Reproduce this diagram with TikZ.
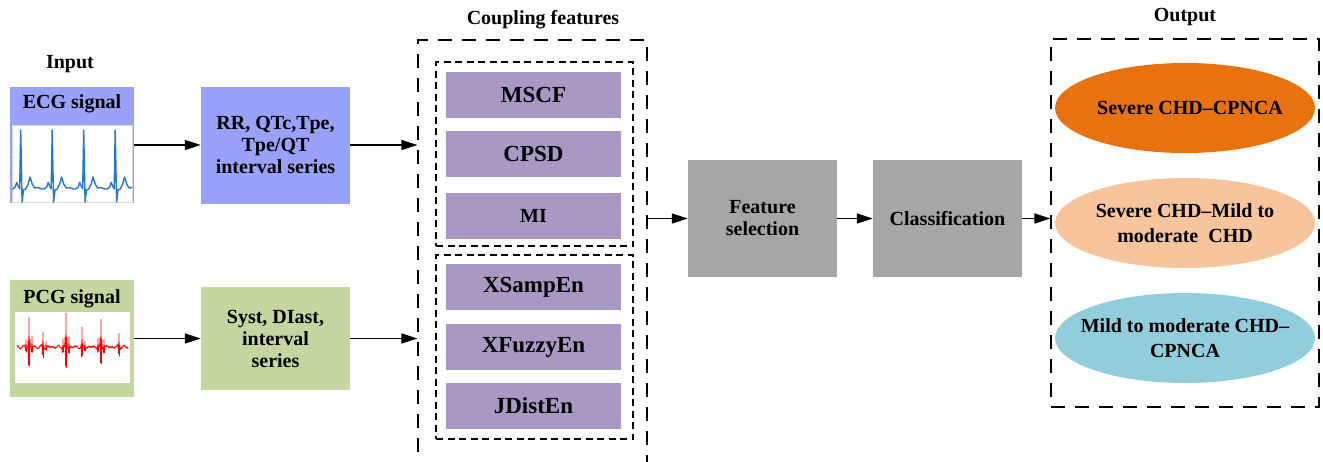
\documentclass[tikz,border=0pt]{standalone}
\usepackage{fontspec}
\setmainfont{Liberation Serif}
\newfontfamily\diagfont{Liberation Serif}
\usetikzlibrary{arrows.meta,shapes.geometric}

\definecolor{ecgblue}{RGB}{152,162,250}
\definecolor{pcggreen}{RGB}{196,215,160}
\definecolor{featpurple}{RGB}{168,152,196}
\definecolor{stepgray}{RGB}{166,166,166}
\definecolor{outorange}{RGB}{232,113,16}
\definecolor{outpeach}{RGB}{247,196,156}
\definecolor{outcyan}{RGB}{146,205,220}
\definecolor{traceblue}{RGB}{35,120,200}

\begin{document}
\begin{tikzpicture}[x=1pt,y=-1pt,
  txt/.style={font=\diagfont\fontsize{20}{22}\selectfont\bfseries, align=center},
  block/.style={txt, inner sep=0pt, minimum width=149pt, minimum height=117pt},
  feat/.style={txt, fill=featpurple, inner sep=0pt, minimum width=175pt,
    minimum height=46pt, font=\diagfont\fontsize{23}{25}\selectfont\bfseries},
  outerbox/.style={draw, line width=1.2pt, dash pattern=on 14pt off 10pt, inner sep=0pt},
  innerbox/.style={draw, line width=1.1pt, dash pattern=on 7pt off 4.5pt, inner sep=0pt},
  arr/.style={line width=1.4pt, -{Triangle[length=16pt,width=10pt]}},
  result/.style={ellipse, inner sep=0pt, minimum width=260pt, minimum height=90pt},
  restext/.style={txt, font=\diagfont\fontsize{20}{25}\selectfont\bfseries},
  declare function={
    burst(\argx,\argc,\arga,\argw)=\arga*max(0,1-abs(\argx-\argc)/\argw)*cos(330*max(-6,min(6,\argx-\argc)));
    hiss(\argx)=1.6*sin(140*(\argx-16))*sin(97*(\argx-16))+0.9*sin(61*(\argx-16));
  }
]
\clip (0,0) rectangle (1323,461);

% headings
\node[txt] (hin)  at (70,64)   {Input};
\node[txt] (hcf)  at (543,20)  {Coupling features};
\node[txt] (hout) at (1185,17) {Output};

% ECG input
\node[fill=ecgblue, inner sep=0pt, minimum width=124pt, minimum height=116pt] (ecg) at (72,145) {};
\node[txt] (ecgt) at (72,104) {ECG signal};
\fill[white] (12,125) rectangle (132,202);
\draw[gray!30, line width=0.4pt] (12,125) rectangle (132,202);
\foreach \ty in {140,157,174,191} \draw[gray!40, line width=0.4pt] (12.5,\ty) -- (14,\ty);
\foreach \tx in {52,87} \draw[gray!40, line width=0.4pt] (\tx,201.5) -- (\tx,200);
\begin{scope}
  \clip (12,125) rectangle (132,202);
  \draw[traceblue, line width=1.4pt, line join=round] (11,189)
    \foreach \r in {20.7,52.2,83.7,115.2} {
      -- (\r-8,189) -- (\r-5.5,187) -- (\r-4,182.5) -- (\r-2.5,186) -- (\r-1,189)
      -- (\r,130) -- (\r+1.4,202) -- (\r+2.8,190) -- (\r+5,189)
      -- (\r+7.5,184) -- (\r+9.3,177) -- (\r+11.5,184) -- (\r+14,188)
      -- (\r+17,187.5) -- (\r+21,189)
    };
\end{scope}

% PCG input
\node[fill=pcggreen, inner sep=0pt, minimum width=124pt, minimum height=117pt] (pcg) at (72,338.5) {};
\node[txt] (pcgt) at (72,299) {PCG signal};
\fill[white] (15,312) rectangle (130,383);
\begin{scope}
  \clip (15,312) rectangle (130,383);
  \draw[red, line width=0.6pt, line join=round]
    plot[domain=17:128.5, samples=900]
    (\x, {347 - hiss(\x)
      - burst(\x,29,30,1.4) - burst(\x,26,8,1) - burst(\x,32,10,1)
      - burst(\x,43,17,1.2) - burst(\x,46,6,1)
      - burst(\x,66,34,1.4) - burst(\x,63,10,1) - burst(\x,69,12,1)
      - burst(\x,82,18,1.2) - burst(\x,85,6,1)
      - burst(\x,101,29,1.4) - burst(\x,98,10,1) - burst(\x,104,11,1)
      - burst(\x,119,15,1.2)});
\end{scope}

% interval series
\node[block, fill=ecgblue] (rr) at (275.5,145) {RR, QTc,Tpe,\\Tpe/QT\\interval series};
\node[block, fill=pcggreen, minimum height=103pt] (syst) at (275.5,338.5) {Syst, DIast,\\interval\\series};

% coupling features
\node[outerbox, minimum width=229pt, minimum height=440pt] (cf) at (532.5,260) {};
\node[innerbox, minimum width=197pt, minimum height=184pt] (grpa) at (534.5,154) {};
\node[innerbox, minimum width=197pt, minimum height=184pt] (grpb) at (534.5,347) {};
\node[feat] (mscf) at (533.5,94.5) {MSCF};
\node[feat] (cpsd) at (533.5,154)  {CPSD};
\node[feat, font=\diagfont\fontsize{20}{22}\selectfont\bfseries] (mi) at (533.5,216) {MI};
\node[feat] (xse)  at (533.5,287)  {XSampEn};
\node[feat] (xfe)  at (533.5,347)  {XFuzzyEn};
\node[feat] (jde)  at (533.5,406)  {JDistEn};

% selection and classification
\node[block, fill=stepgray] (fs) at (762.5,218.5) {Feature\\selection};
\node[block, fill=stepgray] (cl) at (947.5,218.5) {Classification};

% outputs
\node[outerbox, minimum width=268pt, minimum height=368pt] (out) at (1185,223) {};
\node[result, fill=outorange] (r1) at (1185,108) {};
\node[result, fill=outpeach]  (r2) at (1185,223) {};
\node[result, fill=outcyan]   (r3) at (1185,338) {};
\node[restext] (r1t) at (1190,108) {Severe CHD–CPNCA};
\node[restext] (r2t) at (1185,223) {Severe CHD–Mild to\\moderate~ CHD};
\node[restext] (r3t) at (1185,338) {Mild to moderate CHD–\\CPNCA};

% connectors
\draw[arr] (ecg.east) -- (rr.west);
\draw[arr] (pcg.east) -- (syst.west);
\draw[arr] (rr.east) -- (rr.east -| cf.west);
\draw[arr] (syst.east) -- (syst.east -| cf.west);
\draw[arr] (cf.east |- fs.west) -- (fs.west);
\draw[arr] (fs.east) -- (cl.west);
\draw[arr] (cl.east) -- (cl.east -| out.west);
\end{tikzpicture}
\end{document}
